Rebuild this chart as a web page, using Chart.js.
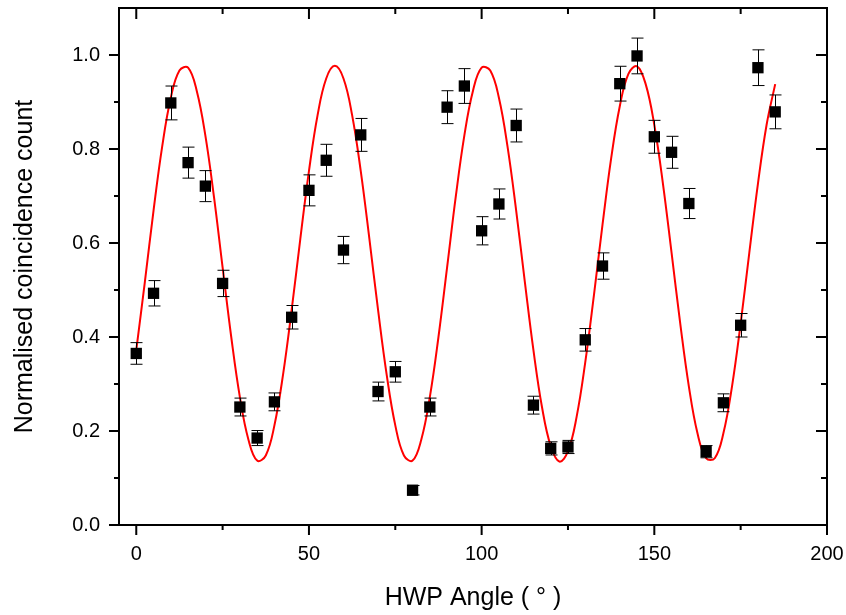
<!DOCTYPE html>
<html>
<head>
<meta charset="utf-8">
<script src="https://cdn.jsdelivr.net/npm/chart.js@4.4.0/dist/chart.umd.min.js"></script>
<style>
    html, body { margin: 0; padding: 0; background: #fff; }
    #wrap { width: 846px; height: 615px; }
</style>
</head>
<body>
<div id="wrap"><canvas id="hwpChart" width="846" height="615"></canvas></div>
<script>
// Measured points: HWP angle (deg), normalised count, error
const angles = [0, 5, 10, 15, 20, 25, 30, 35, 40, 45, 50, 55, 60, 65, 70, 75, 80, 85, 90,
    95, 100, 105, 110, 115, 120, 125, 130, 135, 140, 145, 150, 155, 160, 165, 170, 175, 180, 185];
const counts = [0.365, 0.493, 0.898, 0.771, 0.721, 0.514, 0.251, 0.185, 0.262, 0.442,
    0.712, 0.776, 0.585, 0.830, 0.284, 0.326, 0.074, 0.251, 0.889, 0.934,
    0.626, 0.683, 0.850, 0.255, 0.163, 0.166, 0.394, 0.551, 0.939, 0.998,
    0.826, 0.793, 0.684, 0.156, 0.260, 0.425, 0.973, 0.879];
const countErrors = [0.023, 0.027, 0.036, 0.033, 0.033, 0.028, 0.019, 0.016, 0.019, 0.025,
    0.033, 0.034, 0.029, 0.035, 0.020, 0.022, 0.010, 0.019, 0.035, 0.037,
    0.030, 0.032, 0.035, 0.019, 0.014, 0.014, 0.024, 0.028, 0.037, 0.038,
    0.035, 0.034, 0.032, 0.013, 0.019, 0.025, 0.038, 0.036];

// Fit curve, every 2.5 deg
const fitAngles = [0, 2.5, 5, 7.5, 10, 12.5, 15, 17.5, 20, 22.5, 25, 27.5, 30, 32.5, 35, 37.5,
    40, 42.5, 45, 47.5, 50, 52.5, 55, 57.5, 60, 62.5, 65, 67.5, 70, 72.5, 75, 77.5, 80, 82.5,
    85, 87.5, 90, 92.5, 95, 97.5, 100, 102.5, 105, 107.5, 110, 112.5, 115, 117.5, 120, 122.5,
    125, 127.5, 130, 132.5, 135, 137.5, 140, 142.5, 145, 147.5, 150, 152.5, 155, 157.5, 160,
    162.5, 165, 167.5, 170, 172.5, 175, 177.5, 180, 182.5, 185];
const fitCounts = [0.372, 0.518, 0.669, 0.805, 0.909, 0.967, 0.973, 0.924, 0.829, 0.698,
    0.548, 0.400, 0.272, 0.181, 0.137, 0.148, 0.212, 0.320, 0.458, 0.609,
    0.753, 0.872, 0.950, 0.977, 0.950, 0.872, 0.753, 0.609, 0.458, 0.320,
    0.212, 0.148, 0.137, 0.181, 0.272, 0.400, 0.548, 0.698, 0.829, 0.924,
    0.973, 0.967, 0.909, 0.805, 0.669, 0.518, 0.372, 0.250, 0.168, 0.135,
    0.157, 0.230, 0.346, 0.488, 0.639, 0.780, 0.891, 0.960, 0.976, 0.938,
    0.851, 0.726, 0.579, 0.429, 0.295, 0.195, 0.142, 0.142, 0.195, 0.295,
    0.429, 0.579, 0.726, 0.851, 0.938];

// Axis ticks
const xMajorTicks = [0, 50, 100, 150, 200];
const xMinorTicks = [25, 75, 125, 175];
const yMajorTicks = [0, 0.2, 0.4, 0.6, 0.8, 1.0];
const yMinorTicks = [0.1, 0.3, 0.5, 0.7, 0.9];

const FONT = '"Liberation Sans", Arial, sans-serif';

/**
 * Error bars plus the boxed frame with Origin-style tick marks
 */
const errorBarsAndFrame = {
    id: 'errorBarsAndFrame',
    afterDatasetsDraw(chart) {
        const { ctx, scales: { x, y } } = chart;
        ctx.save();
        ctx.strokeStyle = '#000';
        ctx.lineWidth = 1;
        angles.forEach((a, i) => {
            const px = Math.round(x.getPixelForValue(a)) + 0.5;
            const top = y.getPixelForValue(counts[i] + countErrors[i]);
            const bot = y.getPixelForValue(counts[i] - countErrors[i]);
            ctx.beginPath();
            ctx.moveTo(px, top); ctx.lineTo(px, bot);
            ctx.moveTo(px - 6, top); ctx.lineTo(px + 6, top);
            ctx.moveTo(px - 6, bot); ctx.lineTo(px + 6, bot);
            ctx.stroke();
        });
        ctx.restore();
    },
    afterDraw(chart) {
        const { ctx, chartArea: a, scales: { x, y } } = chart;
        ctx.save();
        ctx.strokeStyle = '#000';
        ctx.lineWidth = 2;
        ctx.strokeRect(a.left, a.top, a.right - a.left, a.bottom - a.top);

        const tick = (x1, y1, x2, y2) => { ctx.moveTo(x1, y1); ctx.lineTo(x2, y2); };
        ctx.beginPath();
        xMajorTicks.forEach(v => {
            const px = x.getPixelForValue(v);
            tick(px, a.bottom, px, a.bottom + 10);
            tick(px, a.top, px, a.top + 11);
        });
        xMinorTicks.forEach(v => {
            const px = x.getPixelForValue(v);
            tick(px, a.bottom, px, a.bottom + 5);
            tick(px, a.top, px, a.top + 6);
        });
        yMajorTicks.forEach(v => {
            const py = y.getPixelForValue(v);
            tick(a.left, py, a.left - 10, py);
            tick(a.right, py, a.right - 11, py);
        });
        yMinorTicks.forEach(v => {
            const py = y.getPixelForValue(v);
            tick(a.left, py, a.left - 5, py);
            tick(a.right, py, a.right - 6, py);
        });
        ctx.stroke();
        ctx.restore();
    }
};

const ctx = document.getElementById('hwpChart').getContext('2d');

new Chart(ctx, {
    type: 'scatter',
    data: {
        datasets: [{
            label: 'Data',
            data: angles.map((a, i) => ({ x: a, y: counts[i] })),
            pointStyle: 'rect',
            pointRadius: 8,
            backgroundColor: '#000',
            borderColor: '#000',
            borderWidth: 0
        }, {
            label: 'Fit',
            data: fitAngles.map((a, i) => ({ x: a, y: fitCounts[i] })),
            showLine: true,
            pointRadius: 0,
            borderColor: '#ff0000',
            borderWidth: 2,
            tension: 0.4,
            fill: false
        }]
    },
    options: {
        responsive: false,
        animation: false,
        layout: {
            padding: { top: 4, right: 19, bottom: 0, left: 0 }
        },
        plugins: {
            legend: { display: false },
            tooltip: { enabled: false }
        },
        scales: {
            x: {
                type: 'linear',
                min: -5,
                max: 200,
                afterBuildTicks: s => { s.ticks = xMajorTicks.map(v => ({ value: v })); },
                afterFit: s => { s.height = 90; s.paddingLeft = 0; s.paddingRight = 0; },
                grid: { display: false, drawTicks: false },
                border: { display: false },
                ticks: {
                    padding: 17,
                    color: '#000',
                    font: { family: FONT, size: 20 },
                    callback: v => v
                },
                title: {
                    display: true,
                    text: 'HWP Angle ( \u00b0 )',
                    color: '#000',
                    font: { family: FONT, size: 25 },
                    padding: { top: 0, bottom: 2 }
                }
            },
            y: {
                min: 0,
                max: 1.1,
                afterBuildTicks: s => { s.ticks = yMajorTicks.map(v => ({ value: v })); },
                afterFit: s => { s.width = 119; s.paddingTop = 0; s.paddingBottom = 0; },
                grid: { display: false, drawTicks: false },
                border: { display: false },
                ticks: {
                    padding: 19,
                    color: '#000',
                    font: { family: FONT, size: 20 },
                    callback: v => v.toFixed(1)
                },
                title: {
                    display: true,
                    text: 'Normalised coincidence count',
                    color: '#000',
                    font: { family: FONT, size: 25 },
                    padding: { top: 10, bottom: 0 }
                }
            }
        }
    },
    plugins: [errorBarsAndFrame]
});
</script>
</body>
</html>
